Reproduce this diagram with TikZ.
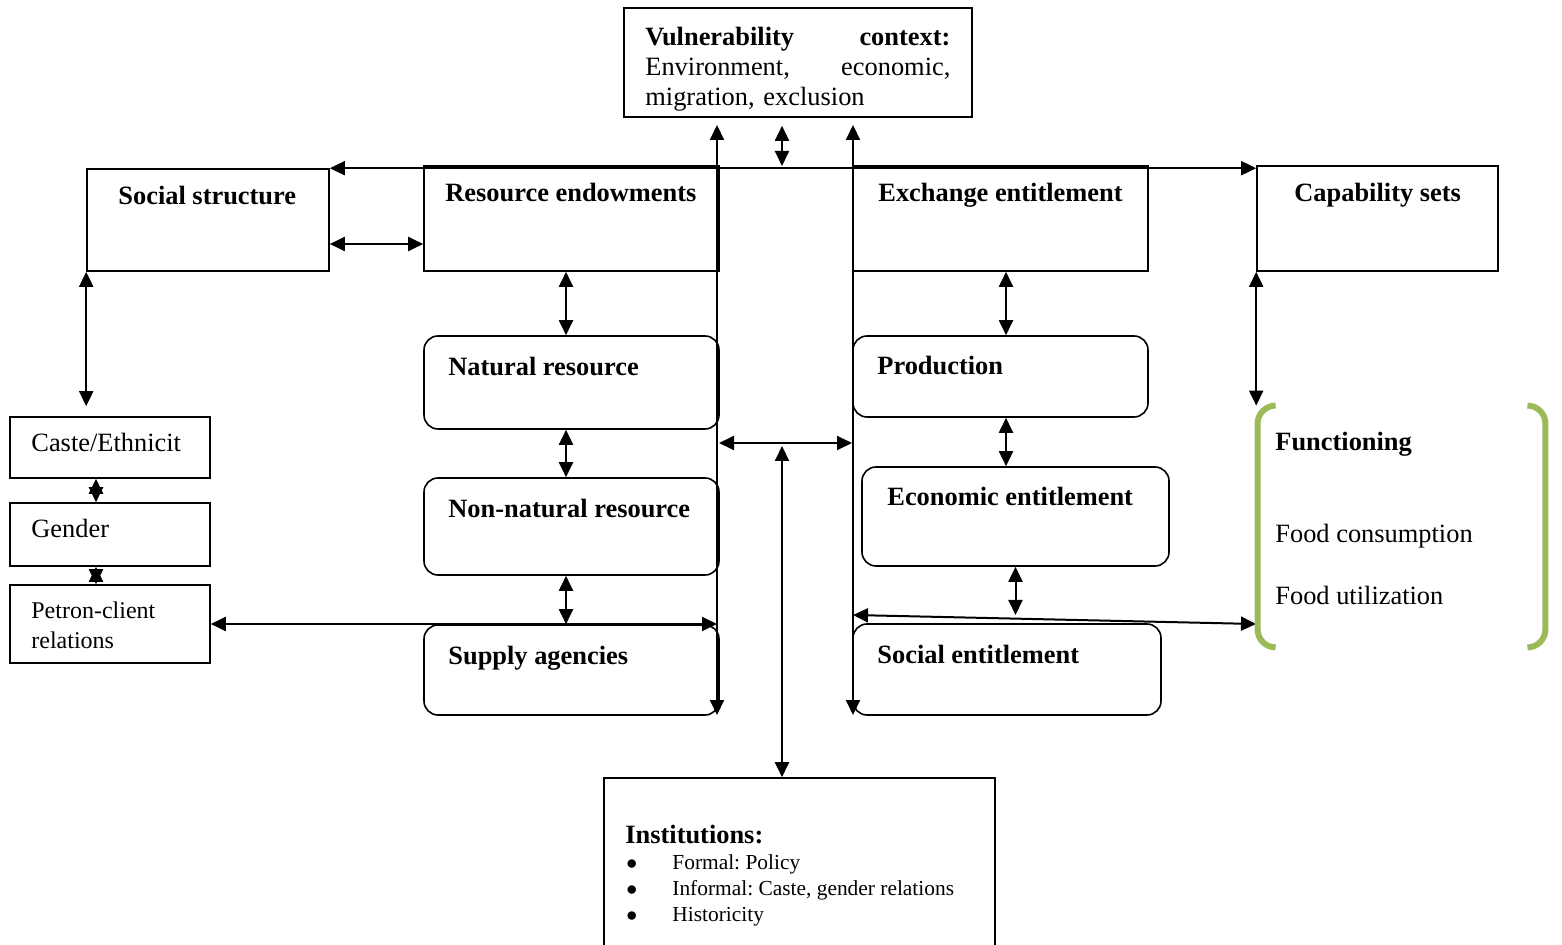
\documentclass[tikz,border=0pt]{standalone}
\usepackage{fontspec}
\setmainfont{Liberation Serif}
\usepackage{xcolor}
\usepackage{tikz}
\usetikzlibrary{arrows.meta,fit}
\frenchspacing
\definecolor{funcgreen}{HTML}{9BBB59}
\tikzset{
squarebox/.style={rectangle, draw=black!100, fill=none, line width=0.8pt, inner sep=0pt},
roundbox/.style={rectangle, rounded corners=7pt, draw=black!100, fill=none, line width=0.8pt, inner sep=0pt},
boldtext/.style={anchor=base west, inner sep=0pt, font=\fontsize{13.2}{15}\selectfont\bfseries},
plaintext/.style={anchor=base west, inner sep=0pt, font=\fontsize{13.2}{15}\selectfont},
twoway/.style={line width=1pt, black, {Triangle[length=7.5pt,width=7pt]}-{Triangle[length=7.5pt,width=7pt]}},
greenbracket/.style={draw=funcgreen, line width=3pt, rounded corners=9pt},
}

\begin{document}
\begin{tikzpicture}[x=0.5pt,y=-0.5pt]
\useasboundingbox (0,0) rectangle (1562,945);

% boxes
\node[squarebox, fit={(624,8) (972,117)}] (vul) {};
\node[squarebox, fit={(87,169) (329,271)}] (soc) {};
\node[squarebox, fit={(424,166) (719,271)}] (res) {};
\node[squarebox, fit={(853,166) (1148,271)}] (exc) {};
\node[squarebox, fit={(1257,166) (1498,271)}] (cap) {};
\node[squarebox, fit={(10,417) (210,478)}] (caste) {};
\node[squarebox, fit={(10,503) (210,566)}] (gen) {};
\node[squarebox, fit={(10,585) (210,663)}] (pet) {};
\node[roundbox, fit={(424,336) (719,429)}] (nat) {};
\node[roundbox, fit={(424,478) (719,575)}] (non) {};
\node[roundbox, fit={(424,625) (719,715)}] (sup) {};
\node[roundbox, fit={(853,336) (1148,417)}] (prod) {};
\node[roundbox, fit={(862,467) (1169,566)}] (eco) {};
\node[roundbox, fit={(853,624) (1161,715)}] (soe) {};
\node[squarebox, fit={(604,778) (995,960)}] (inst) {};
\node[fit={(1258,406) (1545,647)}, inner sep=0pt] (fun) {};

% texts
\node[boldtext, anchor=north west, text width=152.5pt, align=left] at (645,27) (vultxt) {Vulnerability\hfill context:\\ \mdseries Environment,\hfill economic,\\ \mdseries migration, exclusion};
\node[boldtext] at (118,205) (soctxt) {Social structure};
\node[boldtext] at (445,202) (restxt) {Resource endowments};
\node[boldtext] at (878,202) (exctxt) {Exchange entitlement};
\node[boldtext] at (1294,202) (captxt) {Capability sets};
\node[plaintext] at (31,452) (castetxt) {Caste/Ethnicit};
\node[plaintext] at (31,538) (gentxt) {Gender};
\node[plaintext, anchor=north west, font=\fontsize{12}{15}\selectfont, align=left] at (31,601) (pettxt) {Petron-client\\relations};
\node[boldtext] at (448,376) (nattxt) {Natural resource};
\node[boldtext] at (448,518) (nontxt) {Non-natural resource};
\node[boldtext] at (448,664) (suptxt) {Supply agencies};
\node[boldtext] at (877,375) (prodtxt) {Production};
\node[boldtext] at (887,506) (ecotxt) {Economic entitlement};
\node[boldtext] at (877,663) (soetxt) {Social entitlement};
\node[boldtext] at (1275,451) (funtxt) {Functioning};
\node[plaintext] at (1275,543) (constxt) {Food consumption};
\node[plaintext] at (1275,604) (utiltxt) {Food utilization};
\node[boldtext] at (625,843) (insttxt) {Institutions:};
\node[anchor=north west, inner sep=0pt, font=\fontsize{10.7}{13}\selectfont] at (626,851) (instlist) {\begin{tabular}{@{}p{23pt}@{}l@{}}$\bullet$ & Formal: Policy\\ $\bullet$ & Informal: Caste, gender relations\\ $\bullet$ & Historicity\end{tabular}};

% free ends
\coordinate (toplink) at (782,166);
\coordinate (lvtop) at (717,125);
\coordinate (lvbot) at (717,715);
\coordinate (rvtop) at (853,125);
\coordinate (rvbot) at (853,715);
\coordinate (midl) at (719,443);
\coordinate (midr) at (852,443);
\coordinate (instup) at (782,446);
\coordinate (slantl) at (853,615);
\coordinate (slantr) at (1256,624);

% connectors
\draw[twoway] (soc.north east) to (soc.north east -| cap.north west);
\draw[twoway, shorten <=4pt] ([xshift=-8pt]vul.south) to (toplink);
\draw[twoway] (lvtop) to (lvbot);
\draw[twoway] (rvtop) to (rvbot);
\draw[twoway] ([yshift=-12pt]soc.east) to ([yshift=-12pt]soc.east -| res.west);
\draw[twoway, shorten >=5pt] (soc.south west) to (soc.south west |- caste.north);
\draw[twoway] ([xshift=-7pt]caste.south) to ([xshift=-7pt]gen.north);
\draw[twoway] ([xshift=-7pt]gen.south) to ([xshift=-7pt]pet.north);
\draw[twoway] (pet.east) to (pet.east -| lvbot);
\draw[twoway] ([xshift=-2.75pt]res.south) to ([xshift=-2.75pt]nat.north);
\draw[twoway] ([xshift=-2.75pt]nat.south) to ([xshift=-2.75pt]non.north);
\draw[twoway] ([xshift=-2.75pt]non.south) to ([xshift=-2.75pt]sup.north);
\draw[twoway] (midl) to (midr);
\draw[twoway] (instup) to (instup |- inst.north);
\draw[twoway] ([xshift=2.75pt]exc.south) to ([xshift=2.75pt]prod.north);
\draw[twoway] ([xshift=2.75pt]prod.south) to ([xshift=2.75pt]prod.south |- eco.north);
\draw[twoway] (eco.south) to (eco.south |- slantl);
\draw[twoway] (slantl) to (slantr);
\draw[twoway] (cap.south west) to (cap.south west |- fun.north);

% functioning brackets
\draw[greenbracket] ([xshift=9pt]fun.north west) -| (fun.south west) -- ([xshift=9pt]fun.south west);
\draw[greenbracket] ([xshift=-9pt]fun.north east) -| (fun.south east) -- ([xshift=-9pt]fun.south east);
\end{tikzpicture}
\end{document}
